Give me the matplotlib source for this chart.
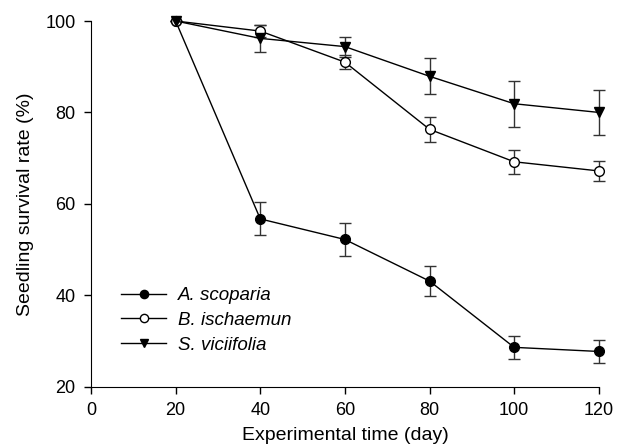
import matplotlib
matplotlib.use("Agg")
import matplotlib.pyplot as plt

plt.rcParams['font.family'] = ['Liberation Sans', 'DejaVu Sans']

days = [20, 40, 60, 80, 100, 120]

# A. scoparia
scoparia = [100, 56.7, 52.2, 43.1, 28.6, 27.7]
scoparia_err = [0, 3.6, 3.7, 3.3, 2.5, 2.6]
# B. ischaemun
ischaemun = [100, 97.8, 91.0, 76.3, 69.2, 67.2]
ischaemun_err = [0, 1.3, 1.6, 2.8, 2.6, 2.1]
# S. viciifolia
viciifolia = [100, 96.2, 94.4, 87.9, 81.9, 80.0]
viciifolia_err = [0, 3.0, 2.2, 3.9, 5.0, 4.9]

fig = plt.figure(figsize=(6.17, 4.47), dpi=100)
ax = fig.add_axes([0.1475, 0.135, 0.823, 0.818])

common = dict(color='black', ecolor='#333333', elinewidth=1.0, capsize=4.3,
              capthick=1.0, lw=1.0, markersize=7, clip_on=False)

c1 = ax.errorbar(days, scoparia, yerr=scoparia_err, marker='o', mfc='black',
                 mec='black', label='A. scoparia', **common)
c2 = ax.errorbar(days, ischaemun, yerr=ischaemun_err, marker='o', mfc='white',
                 mec='black', label='B. ischaemun', **common)
c3 = ax.errorbar(days, viciifolia, yerr=viciifolia_err, marker='v', mfc='black',
                 mec='black', label='S. viciifolia', **common)

ax.set_xlim(0, 120)
ax.set_ylim(20, 100)
ax.set_xticks([0, 20, 40, 60, 80, 100, 120])
ax.set_yticks([20, 40, 60, 80, 100])
ax.spines['top'].set_visible(False)
ax.spines['right'].set_visible(False)
ax.tick_params(direction='out', length=5, width=1, labelsize=13, pad=6)
ax.set_xlabel('Experimental time (day)', fontsize=14, labelpad=6)
ax.set_ylabel('Seedling survival rate (%)', fontsize=14, labelpad=8)

handles = [c[0] for c in (c1, c2, c3)]
labels = ['A. scoparia', 'B. ischaemun', 'S. viciifolia']
ax.legend(handles, labels, loc='upper left', bbox_to_anchor=(0.06, 0.272),
          frameon=False, prop={'style': 'italic', 'size': 13.5},
          handlelength=2.4, handletextpad=0.6, labelspacing=0.4,
          markerscale=0.85, borderaxespad=0, borderpad=0)

fig.savefig('out.png', dpi=100)
